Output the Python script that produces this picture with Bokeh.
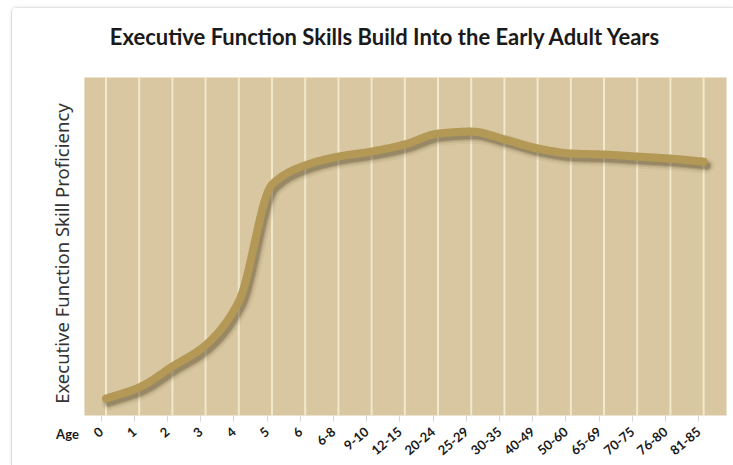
import numpy as np
from bokeh.plotting import figure
from bokeh.models import Range1d, FixedTicker, Label, LinearAxis, CustomJSTickFormatter
from bokeh.embed import file_html
from bokeh.resources import INLINE

# Age groups along the horizontal axis
ages = ["0", "1", "2", "3", "4", "5", "6", "6-8", "9-10", "12-15", "20-24",
        "25-29", "30-35", "40-49", "50-60", "65-69", "70-75", "76-80", "81-85"]

# Relative executive function proficiency (0-100 scale) at each age group
proficiency = [5.0, 8.3, 14.5, 20.8, 33.7, 68.3, 74.0, 76.6, 78.1, 80.2, 83.4,
               84.0, 81.7, 79.0, 77.5, 77.2, 76.6, 76.0, 75.1]

title_text = "Executive Function Skills Build Into the Early Adult Years"
y_label = "Executive Function Skill Proficiency"
x_label = "Age"

BG = "#d8c7a0"
GRID = "#f2e8cd"
CURVE = "#b39955"
SHADOW = "#4d3d22"
INK = "#1a1a1a"

# chart panel extent in data units
PANEL_LEFT, PANEL_RIGHT = -0.65, 18.69
Y_MIN, Y_MAX = 0, 100
# age ticks sit a little left of each rule so the slanted labels end under it
TICK_SHIFT = 0.15


def smooth_path(xs, ys, steps=30):
    """Monotone cubic (Fritsch-Carlson) path through the points, for a smooth stroke."""
    xs = np.asarray(xs, float)
    ys = np.asarray(ys, float)
    n = len(xs)
    h = np.diff(xs)
    d = np.diff(ys) / h
    m = np.zeros(n)
    m[0], m[-1] = d[0], d[-1]
    for k in range(1, n - 1):
        if d[k - 1] * d[k] > 0:
            w1 = 2 * h[k] + h[k - 1]
            w2 = h[k] + 2 * h[k - 1]
            m[k] = (w1 + w2) / (w1 / d[k - 1] + w2 / d[k])
    px, py = [], []
    for i in range(n - 1):
        t = np.linspace(0, 1, steps, endpoint=(i == n - 2))
        h00 = 2 * t**3 - 3 * t**2 + 1
        h10 = t**3 - 2 * t**2 + t
        h01 = -2 * t**3 + 3 * t**2
        h11 = t**3 - t**2
        px.extend(xs[i] + t * h[i])
        py.extend(h00 * ys[i] + h10 * h[i] * m[i] + h01 * ys[i + 1] + h11 * h[i] * m[i + 1])
    return np.array(px), np.array(py)


xpos = list(range(len(ages)))
cx, cy = smooth_path(xpos, proficiency)

p = figure(width=722, height=458, output_backend="svg", toolbar_location=None,
           x_range=Range1d(-2.816, 18.93), y_range=Range1d(-15.09, 120.41),
           x_axis_location=None, y_axis_location=None,
           min_border=0)
p.margin = (7, 0, 0, 11)
p.styles = {"border-left": "1px solid #dcdcdc", "border-top": "1px solid #e4e4e4",
            "border-top-left-radius": "6px",
            "box-shadow": "-1px -1px 3px rgba(0,0,0,0.06)"}

p.background_fill_color = "white"
p.border_fill_color = "white"
p.outline_line_color = None
p.xgrid.grid_line_color = None
p.ygrid.grid_line_color = None

# tan chart panel with a light vertical rule at every age group
p.quad(left=PANEL_LEFT, right=PANEL_RIGHT, bottom=Y_MIN, top=Y_MAX,
       fill_color=BG, line_color=None)
p.segment(x0=xpos, y0=[Y_MIN] * len(xpos), x1=xpos, y1=[Y_MAX] * len(xpos),
          line_color=GRID, line_width=2)

# age axis along the bottom of the panel
xaxis = LinearAxis(fixed_location=Y_MIN)
xaxis.ticker = FixedTicker(ticks=[round(i - TICK_SHIFT, 3) for i in xpos])
xaxis.formatter = CustomJSTickFormatter(
    args=dict(labels=ages, shift=TICK_SHIFT),
    code="return labels[Math.round(tick + shift)]")
xaxis.major_label_orientation = 0.70
xaxis.major_label_text_font = "Lato"
xaxis.major_label_text_font_style = "bold"
xaxis.major_label_text_font_size = "13px"
xaxis.major_label_text_color = INK
xaxis.major_label_standoff = 8
xaxis.axis_line_color = None
xaxis.major_tick_line_color = "#d6d6d6"
xaxis.major_tick_in = 0
xaxis.major_tick_out = 6
xaxis.minor_tick_line_color = None
p.add_layout(xaxis, "below")

# soft drop shadow under the curve
dx, dy = 0.09, -1.2
for w, a in [(16, 0.06), (12, 0.10), (9, 0.16), (7, 0.22)]:
    p.line(cx + dx, cy + dy, line_width=w, line_color=SHADOW, line_alpha=a,
           line_cap="round", line_join="round")

p.line(cx, cy, line_width=8, line_color=CURVE, line_cap="round", line_join="round")

p.add_layout(Label(x=8.42, y=112.0, text=title_text, text_align="center",
                   text_baseline="middle", text_font="Lato", text_font_style="bold",
                   text_font_size="22px", text_color=INK))
p.add_layout(Label(x=-1.34, y=47.9, text=y_label, angle=np.pi / 2,
                   text_align="center", text_baseline="middle",
                   text_font="Noto Sans", text_font_size="18.5px", text_color="#333333"))
p.add_layout(Label(x=-1.16, y=-5.6, text=x_label, text_align="center",
                   text_baseline="middle", text_font="Lato", text_font_style="bold",
                   text_font_size="13px", text_color=INK))

open("out.html", "w").write(file_html(p, INLINE))
